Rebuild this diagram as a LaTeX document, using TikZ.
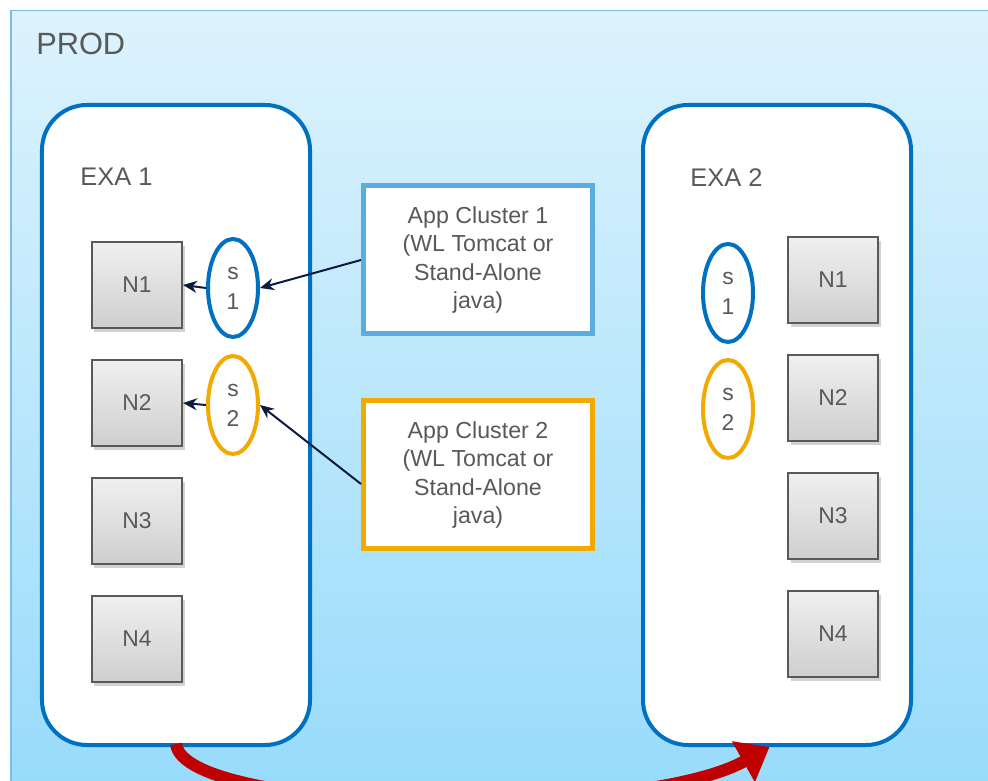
\documentclass[tikz,border=0pt]{standalone}
\usepackage{fontspec}
\setmainfont{Liberation Sans}
\usetikzlibrary{arrows.meta,
                positioning,
                shadows,
                shapes.geometric}
\definecolor{exablue}{RGB}{0,112,192}
\definecolor{clblue}{RGB}{91,173,224}
\definecolor{clorange}{RGB}{242,169,0}
\definecolor{txtgray}{RGB}{89,89,89}
\definecolor{arrnavy}{RGB}{12,26,64}
\definecolor{migred}{RGB}{192,0,0}

\begin{document}
\begin{tikzpicture}[x=0.2mm, y=-0.2mm,
every node/.style={
        font=\fontsize{13}{16}\selectfont, text=txtgray
    },
node distance = 6mm,
    exa/.style = {draw=exablue, line width=0.8mm, fill=white,
                  rounded corners=9mm, minimum width=53.6mm, minimum height=128mm},
    nbox/.style = {draw=txtgray, line width=0.4mm, top color=gray!12, bottom color=gray!38,
                   minimum width=18mm, minimum height=17.2mm,
                   drop shadow={opacity=0.35, shadow xshift=0.5mm, shadow yshift=-0.8mm}},
    svc/.style = {ellipse, draw=#1, line width=0.8mm, fill=none, inner sep=0pt,
                  minimum width=10mm, minimum height=19.6mm, align=center,
                  font=\fontsize{13}{17}\selectfont},
    cluster/.style = {draw=#1, line width=1mm, fill=white, align=center,
                      minimum width=45.8mm, minimum height=29.6mm,
                      font=\fontsize{13.2}{16.2}\selectfont},
    lbl/.style = {anchor=west, inner sep=0pt},
    ptr/.style = {draw=arrnavy, line width=0.4mm, -{Stealth[length=2.8mm,width=2.4mm]}}
    ]
\clip (0,0) rectangle (988,781);
% PROD area
\node (prod) [anchor=north west, draw=clblue!80, line width=0.3mm,
              top color={rgb,255:red,221;green,243;blue,253},
              bottom color={rgb,255:red,152;green,219;blue,251},
              minimum width=200mm, minimum height=156mm] at (10,10) {};
\node (prodlbl) [lbl, font=\fontsize{17.5}{20}\selectfont] at (36,44) {PROD};

% the two EXA machines
\node (exa1) [exa] at (176,425) {};
\node (exa2) [exa] at (777,425) {};
\node (exa1lbl) [lbl, font=\fontsize{14.5}{17}\selectfont] at (80,177) {EXA 1};
\node (exa2lbl) [lbl, font=\fontsize{14.5}{17}\selectfont] at (690,178) {EXA 2};

% nodes
\node (n1a) [nbox] at (137,285) {N1};
\node (n2a) [nbox, below=of n1a] {N2};
\node (n3a) [nbox, below=of n2a] {N3};
\node (n4a) [nbox, below=of n3a] {N4};

\node (n1b) [nbox] at (833,280) {N1};
\node (n2b) [nbox, below=of n1b] {N2};
\node (n3b) [nbox, below=of n2b] {N3};
\node (n4b) [nbox, below=of n3b] {N4};

% services
\node (s1a) [svc=exablue]  at (233,288) {s\\1};
\node (s2a) [svc=clorange] at (233,405) {s\\2};
\node (s1b) [svc=exablue]  at (728,293) {s\\1};
\node (s2b) [svc=clorange] at (728,409) {s\\2};

% app clusters
\node (cl1) [cluster=clblue]   at (478,260) {App Cluster 1\\(WL Tomcat or\\Stand-Alone\\java)};
\node (cl2) [cluster=clorange] at (478,475) {App Cluster 2\\(WL Tomcat or\\Stand-Alone\\java)};

\path
    (cl1.west) edge[ptr] (s1a.east)
    ([yshift=-1.8mm]cl2.west) edge[ptr] (s2a.east)
    (s1a.west) edge[ptr] (n1a.east)
    (s2a.west) edge[ptr] (n2a.east);

% migration
\draw[migred, line width=2.4mm, -{Triangle[length=6mm,width=9mm]}]
    ([yshift=0.6mm]exa1.south) .. controls (185,815) and (640,820) .. ([xshift=-1.5mm]exa2.south);
\end{tikzpicture}
\end{document}
